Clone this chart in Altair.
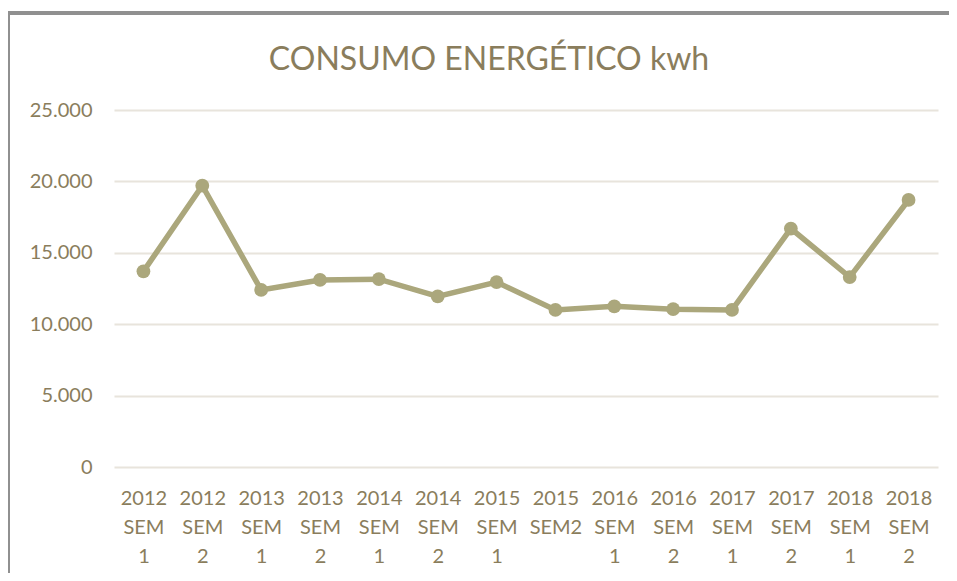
import altair as alt
import pandas as pd

categories = ["2012\nSEM\n1", "2012\nSEM\n2", "2013\nSEM\n1", "2013\nSEM\n2",
              "2014\nSEM\n1", "2014\nSEM\n2", "2015\nSEM\n1", "2015\nSEM2",
              "2016\nSEM\n1", "2016\nSEM\n2", "2017\nSEM\n1", "2017\nSEM\n2",
              "2018\nSEM\n1", "2018\nSEM\n2"]
values = [13700, 19700, 12400, 13100, 13150, 11950, 12950, 11000,
          11250, 11050, 11000, 16700, 13300, 18700]
title_text = ["CONSUMO ENERGÉTICO kwh"]

df = pd.DataFrame({"periodo": categories, "kwh": values})
df_title = pd.DataFrame({"t": title_text})

LINE = "#aba77c"
TEXT = "#8a7d5c"
GRID = "#e8e4dc"
FONT = "Lato"

W, H = 824, 357

base = alt.Chart(df).encode(
    x=alt.X("periodo:N", sort=categories, title=None,
            axis=alt.Axis(labelAngle=0, labelExpr="split(datum.label, '\\n')",
                          labelLineHeight=29, labelPadding=21, ticks=False,
                          domain=False, grid=False, labelFontSize=20,
                          labelFont=FONT, labelColor=TEXT, labelBaseline="top")),
    y=alt.Y("kwh:Q", title=None, scale=alt.Scale(domain=[0, 25000]),
            axis=alt.Axis(values=[0, 5000, 10000, 15000, 20000, 25000],
                          labelExpr="replace(format(datum.value, ',d'), ',', '.')",
                          ticks=False, domain=False, gridColor=GRID, gridWidth=2,
                          labelPadding=22, labelFontSize=20, labelFont=FONT,
                          labelColor=TEXT)),
)

line = base.mark_line(color=LINE, strokeWidth=5.5)
pts = base.mark_circle(color=LINE, size=190, opacity=1)

title = alt.Chart(df_title).mark_text(
    font=FONT, fontSize=32, color=TEXT, align="center", baseline="alphabetic",
    clip=False).encode(text="t:N", x=alt.value(375), y=alt.value(-40))

frame_left = alt.Chart(df).mark_rule(color="#909090", strokeWidth=2.5, clip=False).encode(
    x=alt.value(-106), y=alt.value(-97), y2=alt.value(H + 106))
frame_top = alt.Chart(df).mark_rule(color="#909090", strokeWidth=2.5, clip=False).encode(
    x=alt.value(-106), x2=alt.value(W + 11), y=alt.value(-97))

chart = alt.layer(line, pts, title, frame_left, frame_top).properties(
    width=W, height=H,
    background="white",
    autosize=alt.AutoSizeParams(type="none"),
    padding={"left": 106, "top": 102, "right": 11, "bottom": 106},
).configure_view(strokeWidth=0)

chart.save("out.html", embed_options={"renderer": "svg", "actions": False})
